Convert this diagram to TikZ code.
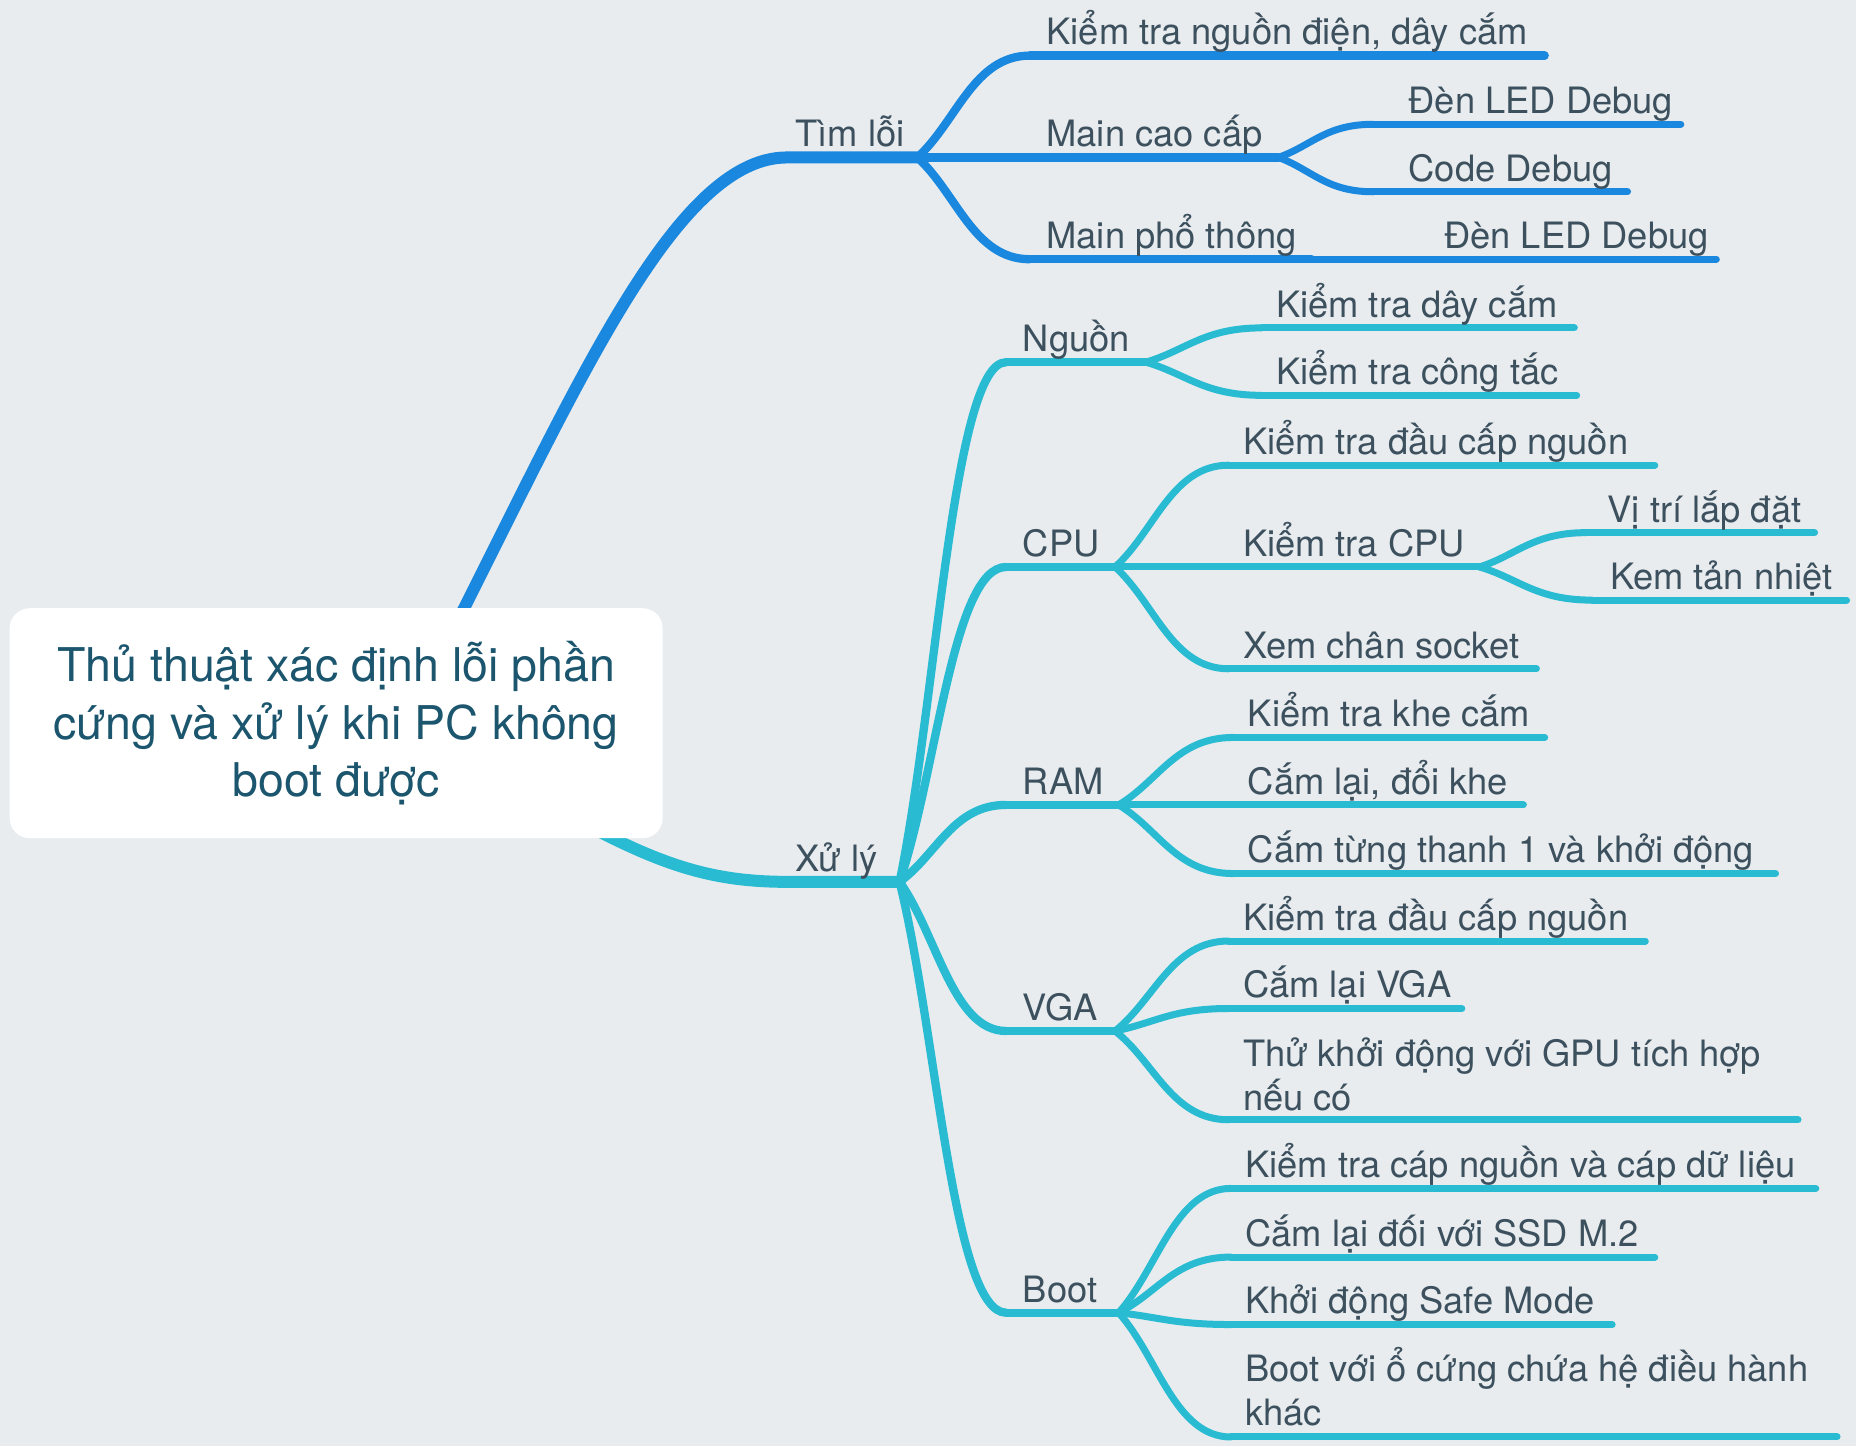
\documentclass[tikz,border=0pt]{standalone}
\usepackage{fontspec}
\setmainfont{TeX Gyre Heros}
\usetikzlibrary{calc}
\definecolor{bg}{RGB}{232,236,239}
\definecolor{blu}{RGB}{26,136,222}
\definecolor{cya}{RGB}{40,187,210}
\definecolor{txt}{RGB}{60,80,94}
\definecolor{ctxt}{RGB}{28,86,110}
\newcommand\curvebr[3][]{\draw[#1] let \p1=(#2),\p2=(#3) in (\p1) .. controls ({\x1+0.35*(\x2-\x1)},{\y1+0.35*(\y2-\y1)}) and ({\x1+0.5*(\x2-\x1)},\y2) .. (\p2);}
\begin{document}
\begin{tikzpicture}[x=1.1837pt,y=-1.1837pt,
  lbl/.style={anchor=base west, inner sep=0pt, text=txt, font=\fontsize{36.3}{44}\selectfont, align=left},
  mainB/.style={line width=12pt, line cap=round},
  midB/.style={line width=8.3pt, line cap=round},
  leafB/.style={line width=7pt, line cap=round},
  rootbox/.style={fill=white, rounded corners=20pt, minimum width=653pt, minimum height=230pt, inner sep=0pt,
     text=ctxt, align=center, font=\fontsize{46.5}{57.4}\selectfont}]
\useasboundingbox[fill=bg] (0,0) rectangle (1568,1222);

% ---------- coordinates
\coordinate (r1) at (340,615);
\coordinate (r2) at (455,675);
\coordinate (t0) at (665,133); \coordinate (t1) at (775,133);
\coordinate (x0) at (665,745); \coordinate (x1) at (760,745);

% Tim loi children
\coordinate (a1s) at (870,47);  \coordinate (a1e) at (1305,47);
\coordinate (a2e) at (1080,133);
\coordinate (a3s) at (870,219); \coordinate (a3e) at (1108,219); \coordinate (a31e) at (1450,219);
\coordinate (b1s) at (1160,105); \coordinate (b1e) at (1420,105);
\coordinate (b2s) at (1160,162); \coordinate (b2e) at (1375,162);

% Xu ly children
\coordinate (ns) at (850,306); \coordinate (ne) at (968,306);
\coordinate (cs) at (850,479); \coordinate (ce) at (942,479);
\coordinate (rs) at (850,680); \coordinate (re) at (945,680);
\coordinate (vs) at (850,871); \coordinate (ve) at (942,871);
\coordinate (bs) at (850,1109); \coordinate (be) at (945,1109);

\coordinate (n1s) at (1066,277); \coordinate (n1e) at (1330,277);
\coordinate (n2s) at (1066,334); \coordinate (n2e) at (1332,334);

\coordinate (c1s) at (1038,393); \coordinate (c1e) at (1398,393);
\coordinate (c2e) at (1250,479);
\coordinate (c21s) at (1340,450); \coordinate (c21e) at (1533,450);
\coordinate (c22s) at (1345,507); \coordinate (c22e) at (1560,507);
\coordinate (c3s) at (1038,565); \coordinate (c3e) at (1298,565);

\coordinate (m1s) at (1042,623); \coordinate (m1e) at (1305,623);
\coordinate (m2s) at (1042,680); \coordinate (m2e) at (1287,680);
\coordinate (m3s) at (1042,738); \coordinate (m3e) at (1500,738);

\coordinate (v1s) at (1038,795); \coordinate (v1e) at (1390,795);
\coordinate (v2s) at (1038,852); \coordinate (v2e) at (1235,852);
\coordinate (v3s) at (1038,946); \coordinate (v3e) at (1519,946);

\coordinate (o1s) at (1040,1004); \coordinate (o1e) at (1534,1004);
\coordinate (o2s) at (1040,1062); \coordinate (o2e) at (1398,1062);
\coordinate (o3s) at (1040,1119); \coordinate (o3e) at (1362,1119);
\coordinate (o4s) at (1040,1214); \coordinate (o4e) at (1552,1214);

% ---------- blue branch
\begin{scope}[draw=blu]
\draw[mainB] (r1) .. controls (470,370) and (560,133) .. (t0) -- (t1);
\curvebr[midB]{t1}{a1s} \draw[midB] (a1s) -- (a1e);
\draw[midB] (t1) -- (a2e);
\curvebr[midB]{t1}{a3s} \draw[midB] (a3s) -- (a3e);
\draw[leafB] (a3e) -- (a31e);
\curvebr[leafB]{a2e}{b1s} \draw[leafB] (b1s) -- (b1e);
\curvebr[leafB]{a2e}{b2s} \draw[leafB] (b2s) -- (b2e);
\end{scope}

% ---------- cyan branch
\begin{scope}[draw=cya]
\draw[mainB] (r2) .. controls (545,725) and (590,745) .. (x0) -- (x1);
\foreach \ss/\ee in {ns/ne,cs/ce,rs/re,vs/ve,bs/be}{
  \curvebr[midB]{x1}{\ss} \draw[midB] (\ss) -- (\ee);
}
\foreach \pp/\ss/\ee in {ne/n1s/n1e,ne/n2s/n2e,ce/c1s/c1e,ce/c3s/c3e,
   re/m1s/m1e,re/m2s/m2e,re/m3s/m3e,ve/v1s/v1e,ve/v2s/v2e,ve/v3s/v3e,
   be/o1s/o1e,be/o2s/o2e,be/o3s/o3e,be/o4s/o4e}{
  \curvebr[leafB]{\pp}{\ss} \draw[leafB] (\ss) -- (\ee);
}
\draw[leafB] (ce) -- (c2e);
\curvebr[leafB]{c2e}{c21s} \draw[leafB] (c21s) -- (c21e);
\curvebr[leafB]{c2e}{c22s} \draw[leafB] (c22s) -- (c22e);
\end{scope}

% ---------- root
\node[rootbox] (root) at (284,611) {Thủ thuật xác định lỗi phần\\cứng và xử lý khi PC không\\boot được};

% ---------- labels
\node[lbl] (lt) at (672,124) {Tìm lỗi};
\node[lbl] (la1) at (884,38) {Kiểm tra nguồn điện, dây cắm};
\node[lbl] (la2) at (884,124) {Main cao cấp};
\node[lbl] (la3) at (884,210) {Main phổ thông};
\node[lbl] (la31) at (1220,210) {Đèn LED Debug};
\node[lbl] (lb1) at (1190,96) {Đèn LED Debug};
\node[lbl] (lb2) at (1190,153) {Code Debug};

\node[lbl] (lx) at (672,736) {Xử lý};
\node[lbl] (ln) at (864,297) {Nguồn};
\node[lbl] (lc) at (864,470) {CPU};
\node[lbl] (lr) at (864,671) {RAM};
\node[lbl] (lv) at (864,862) {VGA};
\node[lbl] (lbo) at (864,1100) {Boot};

\node[lbl] (ln1) at (1078,268) {Kiểm tra dây cắm};
\node[lbl] (ln2) at (1078,325) {Kiểm tra công tắc};

\node[lbl] (lc1) at (1050,384) {Kiểm tra đầu cấp nguồn};
\node[lbl] (lc2) at (1050,470) {Kiểm tra CPU};
\node[lbl] (lc21) at (1358,441) {Vị trí lắp đặt};
\node[lbl] (lc22) at (1360,498) {Kem tản nhiệt};
\node[lbl] (lc3) at (1050,556) {Xem chân socket};

\node[lbl] (lm1) at (1054,614) {Kiểm tra khe cắm};
\node[lbl] (lm2) at (1054,671) {Cắm lại, đổi khe};
\node[lbl] (lm3) at (1054,729) {Cắm từng thanh 1 và khởi động};

\node[lbl] (lv1) at (1050,786) {Kiểm tra đầu cấp nguồn};
\node[lbl] (lv2) at (1050,843) {Cắm lại VGA};
\node[lbl] (lv3) at (1050,938) {Thử khởi động với GPU tích hợp\\nếu có};

\node[lbl] (lo1) at (1052,995) {Kiểm tra cáp nguồn và cáp dữ liệu};
\node[lbl] (lo2) at (1052,1053) {Cắm lại đối với SSD M.2};
\node[lbl] (lo3) at (1052,1110) {Khởi động Safe Mode};
\node[lbl] (lo4) at (1052,1204) {Boot với ổ cứng chứa hệ điều hành\\khác};
\end{tikzpicture}
\end{document}
